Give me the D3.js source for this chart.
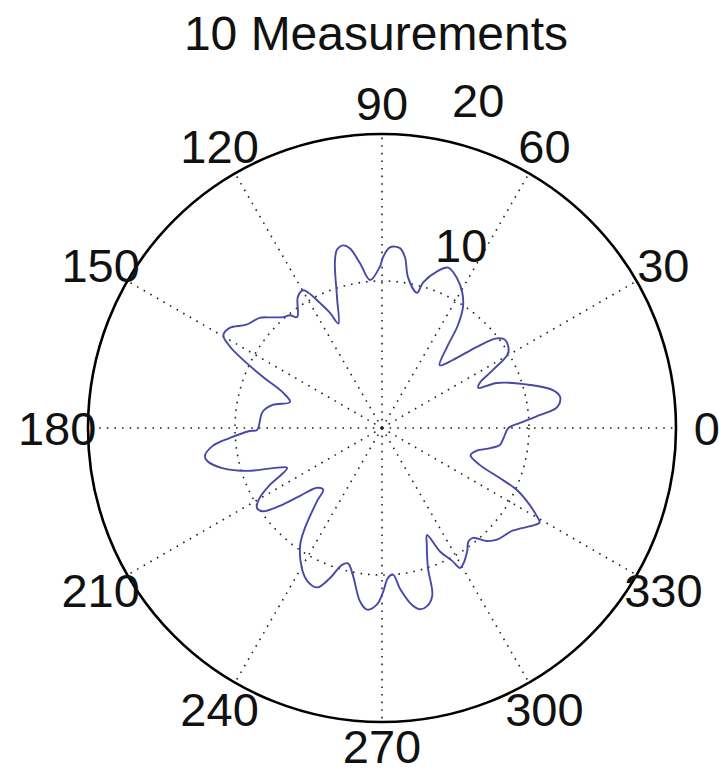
<!DOCTYPE html>
<html>
<head>
<meta charset="utf-8">
<script src="https://cdn.jsdelivr.net/npm/d3@7"></script>
<style>
  html, body { margin: 0; padding: 0; background: #fff; }
  svg { display: block; }
  text { font-family: "Liberation Sans", Arial, Helvetica, sans-serif; fill: #111; }
</style>
</head>
<body>
<svg id="chart" width="719" height="775"></svg>
<script>
const titleText = "10 Measurements";
const angleTicks = [0, 30, 60, 90, 120, 150, 180, 210, 240, 270, 300, 330];
const angleTickLabels = ["0", "30", "60", "90", "120", "150", "180", "210", "240", "270", "300", "330"];
const radialTicks = [10, 20];
const radialTickLabels = ["10", "20"];
const rMax = 20;

// measurement trace (angle in degrees, radius)
const thetaDeg = [0, 2.1, 4.7, 6.8, 9.9, 12.5, 16.2, 21.4, 22.6, 24.7, 27.6, 30.8, 35.6, 38.0, 40.5, 43.8, 47.4,
  51.3, 53.4, 56.2, 59.3, 63.4, 67.6, 70.6, 74.2, 75.5, 80.2, 82.3, 84.3, 87.5, 89.7, 90.7, 94.6, 97.6,
  100.1, 102.0, 104.2, 105.9, 109.0, 112.7, 114.3, 116.4, 118.6, 119.8, 122.7, 127.4, 129.2, 131.7,
  135.3, 138.0, 142.7, 146.7, 149.7, 151.9, 153.9, 156.8, 160.5, 164.2, 168.1, 172.4, 180.9, 181.3,
  183.8, 186.1, 189.0, 190.7, 194.1, 197.7, 200.2, 202.8, 207.0, 209.8, 212.6, 214.9, 217.4, 219.7,
  222.7, 226.4, 228.3, 232.4, 235.0, 240.3, 244.2, 247.9, 250.9, 253.7, 255.9, 258.8, 262.8, 265.3,
  268.4, 270.3, 272.3, 274.3, 276.4, 279.6, 281.8, 284.2, 286.7, 288.2, 291.0, 292.8, 295.2, 297.8,
  299.1, 300.6, 304.6, 307.3, 309.6, 312.9, 315.8, 321.8, 327.0, 329.0, 330.4, 333.3, 335.3, 337.0,
  339.3, 342.9, 346.4, 349.5, 351.8, 355.3];
const radius = [8.6, 9.4, 10.8, 12.0, 12.3, 11.9, 10.5, 8.4, 7.1, 7.3, 8.5, 10.0, 10.3, 9.9, 8.5, 6.7, 5.8,
  7.1, 8.6, 9.9, 10.7, 11.4, 11.8, 11.3, 10.3, 9.5, 10.4, 11.7, 12.3, 12.3, 11.6, 11.0, 10.1, 11.3,
  12.4, 12.7, 12.5, 11.7, 9.4, 7.7, 8.6, 9.5, 10.5, 10.8, 10.6, 9.5, 9.9, 10.1,
  10.7, 11.2, 11.6, 12.4, 12.5, 11.7, 10.5, 8.8, 7.1, 6.5, 7.6, 8.2, 8.5, 9.0,
  10.4, 11.6, 12.2, 12.1, 11.2, 9.6, 7.9, 7.0, 8.6, 9.6, 10.1, 9.9, 8.7, 7.2,
  6.0, 5.8, 6.6, 8.6, 9.7, 11.0, 11.6, 11.7, 10.8, 9.7, 9.5, 10.2, 11.9, 12.4,
  12.0, 11.2, 10.2, 10.0, 11.0, 12.2, 12.6, 12.5, 11.9, 10.0, 8.5, 7.9, 9.3, 10.2,
  10.9, 10.8, 10.2, 9.7, 9.7, 10.5, 10.9, 11.3, 12.2, 12.5, 12.1, 11.0, 10.1, 8.7,
  7.1, 6.3, 6.6, 7.5, 8.1, 8.3];

const W = 719, H = 775;
const cx = 382, cy = 428, R = 294;
const fs = 47;
const svg = d3.select("#chart");
svg.append("rect").attr("width", W).attr("height", H).attr("fill", "#fff");

const r = d3.scaleLinear().domain([0, rMax]).range([0, R]);
const g = svg.append("g").attr("transform", `translate(${cx},${cy})`);
const toRad = d => d * Math.PI / 180;

const dotStyle = sel => sel.attr("fill", "none").attr("stroke", "#222")
  .attr("stroke-width", 1.6).attr("stroke-dasharray", "1.6,6").attr("stroke-linecap", "butt");

// spokes
g.selectAll("line.spoke").data(angleTicks).join("line")
  .attr("class", "spoke")
  .attr("x1", 0).attr("y1", 0)
  .attr("x2", d => r(rMax) * Math.cos(toRad(d)))
  .attr("y2", d => -r(rMax) * Math.sin(toRad(d)))
  .call(dotStyle);

// inner rings
g.selectAll("circle.ring").data(radialTicks.filter(t => t < rMax)).join("circle")
  .attr("class", "ring").attr("r", d => r(d)).call(dotStyle);

// outer circle
g.append("circle").attr("r", r(rMax)).attr("fill", "none")
  .attr("stroke", "#000").attr("stroke-width", 2.6);

// data curve
const pts = thetaDeg.map((t, i) => [toRad(90 - t), r(radius[i])]);
const line = d3.lineRadial().angle(d => d[0]).radius(d => d[1]).curve(d3.curveCatmullRomClosed.alpha(0.5));
g.append("path").attr("d", line(pts)).attr("fill", "none")
  .attr("stroke", "#4848a8").attr("stroke-width", 1.9).attr("stroke-linejoin", "round");

// angle labels
const labelR = R * 1.105;
const maxY = H - cy - fs * 0.6;
g.selectAll("text.ang").data(angleTicks).join("text")
  .attr("class", "ang")
  .attr("x", d => labelR * Math.cos(toRad(d)))
  .attr("y", d => Math.min(-labelR * Math.sin(toRad(d)), maxY))
  .attr("text-anchor", "middle").attr("dominant-baseline", "central")
  .attr("font-size", fs)
  .text((d, i) => angleTickLabels[i]);

// radial labels (placed along the upper right, as in the reference)
const rLabelPos = [{dx: 53, dy: -166}, {dx: 70, dy: -311}];
g.selectAll("text.rl").data(radialTicks).join("text")
  .attr("class", "rl")
  .attr("x", (d, i) => rLabelPos[i].dx)
  .attr("y", (d, i) => rLabelPos[i].dy)
  .attr("font-size", fs)
  .text((d, i) => radialTickLabels[i]);

// title
svg.append("text").attr("x", 376).attr("y", 50)
  .attr("text-anchor", "middle").attr("font-size", 48).text(titleText);
</script>
</body>
</html>
